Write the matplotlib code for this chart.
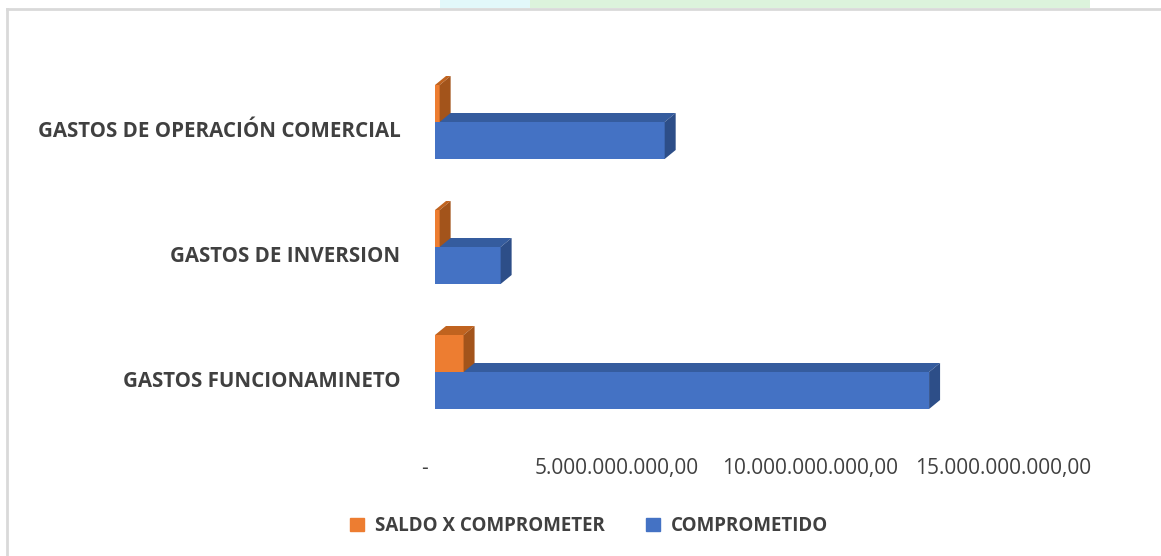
import matplotlib
matplotlib.use('Agg')
import matplotlib.pyplot as plt
import matplotlib.transforms as mtransforms
from matplotlib.patches import Rectangle, Patch

categorias = ['GASTOS FUNCIONAMINETO', 'GASTOS DE INVERSION', 'GASTOS DE OPERACIÓN COMERCIAL']
comprometido = [12.8e9, 1.7e9, 5.95e9]
saldo = [0.74e9, 0.12e9, 0.12e9]
ticks = [0, 5e9, 10e9, 15e9]
tick_labels = ['-', '5.000.000.000,00', '10.000.000.000,00', '15.000.000.000,00']

azul = ['#4472C4', '#355C9E', '#2D4E88']      # front, top, side
naranja = ['#ED7D31', '#C0631F', '#A3541B']

W, H, dpi = 1161, 556, 100
fig = plt.figure(figsize=(W / dpi, H / dpi), dpi=dpi)
fig.patch.set_facecolor('white')

# faint watermark strip above the chart frame
fig.patches.append(Rectangle((440 / W, 1 - 8 / H), 90 / W, 8 / H, transform=fig.transFigure,
                             facecolor='#e2f8fa', edgecolor='none'))
fig.patches.append(Rectangle((530 / W, 1 - 8 / H), 560 / W, 8 / H, transform=fig.transFigure,
                             facecolor='#dcf3dc', edgecolor='none'))
# chart frame (top and left edges visible)
fig.add_artist(plt.Line2D([7 / W, 1], [1 - 9 / H, 1 - 9 / H], transform=fig.transFigure,
                          color='#d9d9d9', lw=2))
fig.add_artist(plt.Line2D([7 / W, 7 / W], [0, 1 - 9 / H], transform=fig.transFigure,
                          color='#d9d9d9', lw=2))

px_x = 579 / 15e9        # pixels per unit value
px_y = 125.0             # pixels per category
ax = fig.add_axes([435 / W, (556 - 434.5) / H, 579 / W, 375 / H])
ax.set_xlim(0, 15e9)
ax.set_ylim(-0.5, 2.5)

bh = 37 / px_y
dx = 11 / px_x
dy = 9 / px_y


def barra3d(y0, valor, cols):
    y1 = y0 + bh
    ax.fill([0, valor, valor, 0], [y0, y0, y1, y1], color=cols[0], lw=0)
    ax.fill([0, valor, valor + dx, dx], [y1, y1, y1 + dy, y1 + dy], color=cols[1], lw=0)
    ax.fill([valor, valor + dx, valor + dx, valor], [y0, y0 + dy, y1 + dy, y1], color=cols[2], lw=0)


for i in range(len(categorias)):
    barra3d(i - bh, comprometido[i], azul)
    barra3d(i, saldo[i], naranja)

for s in ax.spines.values():
    s.set_visible(False)
ax.tick_params(length=0)
ax.set_xticks(ticks)
ax.set_xticklabels(tick_labels, fontsize=15, color='#404040', family='Open Sans')
ax.tick_params(axis='x', pad=17)
ax.set_yticks(range(len(categorias)))
ax.set_yticklabels(categorias, fontsize=14.8, color='#404040', family='Open Sans',
                   fontweight='bold')
ax.tick_params(axis='y', pad=25)

for lab in ax.get_xticklabels():
    lab.set_transform(lab.get_transform() + mtransforms.ScaledTranslation(-11 / dpi, 0, fig.dpi_scale_trans))
for lab in ax.get_yticklabels():
    lab.set_transform(lab.get_transform() + mtransforms.ScaledTranslation(0, -7 / dpi, fig.dpi_scale_trans))

handles = [Patch(color=naranja[0], label='SALDO X COMPROMETER'),
           Patch(color=azul[0], label='COMPROMETIDO')]
fig.legend(handles=handles, loc='center', bbox_to_anchor=(589 / W, 1 - 526 / H), ncol=2,
           frameon=False, handlelength=0.75, handleheight=0.75, handletextpad=0.6,
           columnspacing=2.2,
           prop={'family': 'Open Sans', 'weight': 'bold', 'size': 13.5},
           labelcolor='#404040')

fig.savefig('out.png', dpi=dpi, facecolor='white')
